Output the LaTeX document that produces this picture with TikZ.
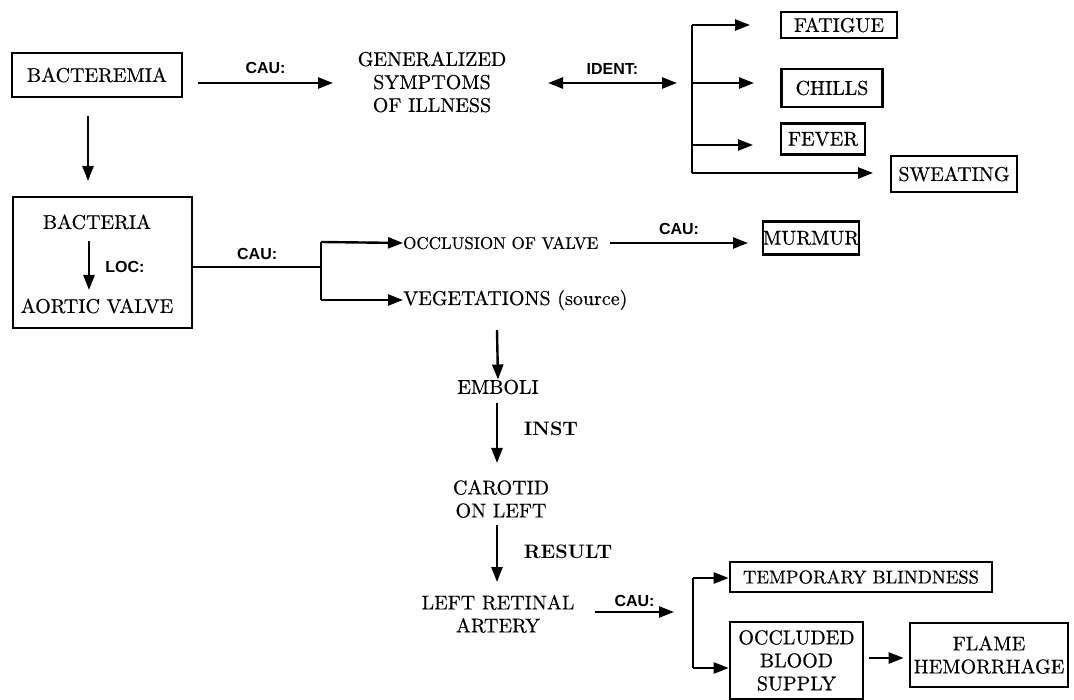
\documentclass[tikz,border=0pt]{standalone}
\usepackage{fontspec}
\newfontfamily\labfont{Liberation Sans}
\newfontfamily\heavy{lmroman10-regular.otf}[FakeBold=0.5]
\newfontfamily\boldlm{lmroman10-bold.otf}
\usetikzlibrary{arrows.meta,calc}
\begin{document}
\begin{tikzpicture}[x=1pt,y=-1pt,
  every node/.style={inner sep=0pt},
  main/.style={font=\heavy\fontsize{20}{23}\selectfont, align=center},
  box/.style={draw, line width=2.6pt, main},
  rel/.style={font=\labfont\bfseries\fontsize{16}{18}\selectfont},
  relb/.style={font=\boldlm\fontsize{19.5}{21}\selectfont},
  arr/.style={line width=2.4pt, -{Triangle[length=15pt,width=11pt]}},
  darr/.style={line width=2.4pt, {Triangle[length=15pt,width=11pt]}-{Triangle[length=15pt,width=11pt]}},
  ln/.style={line width=2.4pt},
]
\useasboundingbox (0,0) rectangle (1074,700);

% top row
\node[box, minimum width=170pt, minimum height=44pt] (bacteremia) at (97,75) {BACTEREMIA};
\node[main] (gen) at (432,82) {GENERALIZED\\SYMPTOMS\\OF ILLNESS};
\coordinate (a1s) at (198,83); \coordinate (a1e) at (333,83);
\draw[arr] (a1s) -- node[rel, above=8pt] (cau1) {CAU:} (a1e);
\coordinate (a2s) at (548,83); \coordinate (a2e) at (677,83);
\draw[darr] (a2s) -- node[rel, above=7pt] (ident) {IDENT:} (a2e);

\node[box, minimum width=116pt, minimum height=26pt] (fatigue) at (839,25) {FATIGUE};
\node[box, minimum width=101pt, minimum height=38pt] (chills) at (832,88) {CHILLS};
\node[box, minimum width=84pt, minimum height=31pt] (fever) at (823,139) {FEVER};
\node[box, minimum width=126pt, minimum height=36pt] (sweating) at (954,174) {SWEATING};

\coordinate (b1t) at (692,25); \coordinate (b1b) at (692,173);
\draw[ln] (b1t) -- (b1b);
\draw[arr] (b1t) -- (750,25);
\draw[arr] (692,83) -- (754,83);
\draw[arr] (692,145) -- (753,145);
\draw[arr] (b1b) -- (873,173);

% bacteria box
\draw[arr] (88,116) -- (88,181);
\node[box, minimum width=179pt, minimum height=131pt] (bactbox) at (102.5,262.5) {};
\node[main] (bacteria) at (97,222) {BACTERIA};
\node[main] (aortic) at (97,306) {AORTIC VALVE};
\coordinate (loc1) at (89,241); \coordinate (loc2) at (89,290);
\draw[arr] (loc1) -- (loc2);
\node[rel] (loc) at (125,267) {LOC:};

\coordinate (jn) at (321,267);
\draw[ln] (bactbox.east |- jn) -- node[rel, above=6pt] (cau2) {CAU:} (jn);
\draw[ln] (321,242) -- (321,300);
\node[main, anchor=west, font=\heavy\fontsize{17}{20}\selectfont] (occ) at (403,243) {OCCLUSION OF VALVE};
\node[main, anchor=west] (veg) at (403,300) {VEGETATIONS (source)};
\draw[arr] (321,242) -- (occ.west);
\draw[arr] (321,300) -- (veg.west);

\coordinate (a3s) at (610,243); \coordinate (a3e) at (748,243);
\draw[arr] (a3s) -- node[rel, above=7pt] (cau3) {CAU:} (a3e);
\node[box, minimum width=88pt, minimum height=33pt] (murmur) at (811,238) {MURMUR};

% vertical chain
\node[main] (emboli) at (498,387) {EMBOLI};
\draw[arr] (497,330) -- (emboli.north);
\node[main] (carotid) at (501,499) {CAROTID\\ON LEFT};
\draw[arr] (497,403) -- (497,463);
\node[relb] (inst) at (551,429) {INST};
\draw[arr] (497,525) -- (497,582);
\node[relb] (result) at (568,552) {RESULT};
\node[main] (retinal) at (498,614) {LEFT RETINAL\\ARTERY};
\coordinate (a4s) at (595,612); \coordinate (a4e) at (674,612);
\draw[arr] (a4s) -- node[rel, above=4pt] (cau4) {CAU:} (a4e);

\coordinate (b2t) at (693,578); \coordinate (b2b) at (693,668);
\draw[ln] (b2t) -- (b2b);
\node[box, minimum width=262pt, minimum height=30pt, font=\heavy\fontsize{18.5}{20}\selectfont] (temp) at (861,577) {TEMPORARY BLINDNESS};
\node[box, minimum width=133pt, minimum height=77pt] (occl) at (796.5,660.5) {OCCLUDED\\BLOOD\\SUPPLY};
\node[box, minimum width=158pt, minimum height=64pt] (flame) at (989,655) {FLAME\\HEMORRHAGE};
\draw[arr] (b2t) -- (temp.west |- b2t);
\draw[arr] (b2b) -- (occl.west |- b2b);
\draw[arr] ([xshift=5pt]occl.east |- 0,658) -- ([xshift=-5pt]flame.west |- 0,658);
\end{tikzpicture}
\end{document}
